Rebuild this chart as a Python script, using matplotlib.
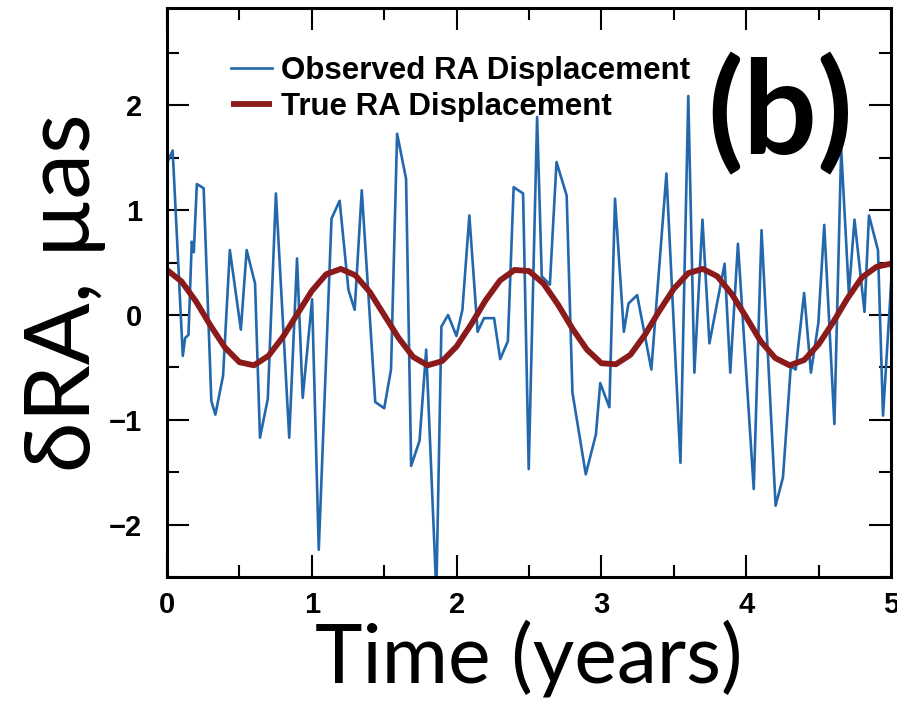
import numpy as np
import matplotlib
matplotlib.use("Agg")
import matplotlib.pyplot as plt

# observed RA displacement
t_obs = [0.000, 0.039, 0.109, 0.125, 0.148, 0.171, 0.185, 0.206, 0.253, 0.306,
         0.334, 0.387, 0.434, 0.510, 0.550, 0.608, 0.642, 0.696, 0.752, 0.844,
         0.898, 0.937, 1.002, 1.048, 1.136, 1.192, 1.253, 1.296, 1.345, 1.438,
         1.500, 1.547, 1.589, 1.651, 1.686, 1.744, 1.790, 1.860, 1.895, 1.941,
         1.999, 2.040, 2.088, 2.145, 2.189, 2.259, 2.301, 2.354, 2.394, 2.459,
         2.498, 2.556, 2.588, 2.644, 2.690, 2.760, 2.800, 2.892, 2.962, 2.992,
         3.055, 3.094, 3.155, 3.187, 3.247, 3.345, 3.449, 3.546, 3.600, 3.642,
         3.698, 3.746, 3.851, 3.890, 3.943, 4.052, 4.106, 4.203, 4.254, 4.308,
         4.342, 4.400, 4.447, 4.498, 4.539, 4.609, 4.656, 4.709, 4.748, 4.817,
         4.848, 4.910, 4.945, 5.015]
ra_obs = [1.45, 1.57, -0.39, -0.22, -0.19, 0.70, 0.60, 1.25, 1.21, -0.82,
          -0.95, -0.58, 0.62, -0.14, 0.62, 0.30, -1.17, -0.80, 1.16, -1.17,
          0.54, -0.79, 0.15, -2.24, 0.92, 1.09, 0.24, 0.05, 1.19, -0.83,
          -0.89, -0.52, 1.73, 1.30, -1.44, -1.20, -0.33, -2.65, -0.11, 0.00,
          -0.20, 0.05, 0.95, -0.16, -0.03, -0.03, -0.42, -0.25, 1.22, 1.16,
          -1.47, 1.89, 0.37, 0.29, 1.46, 1.14, -0.74, -1.52, -1.14, -0.65,
          -0.88, 1.11, -0.16, 0.11, 0.19, -0.52, 1.35, -1.41, 2.09, -0.55,
          0.91, -0.27, 0.49, -0.55, 0.68, -1.66, 0.81, -1.82, -1.55, -0.49,
          -0.52, 0.21, -0.55, -0.08, 0.86, -1.04, 1.59, 0.21, 0.91, 0.03,
          0.95, 0.62, -0.96, 0.62]

# true RA displacement, sampled every 0.1 yr
t_true = np.arange(51) * 0.1
ra_true = [0.43, 0.32, 0.13, -0.10, -0.31, -0.45, -0.48, -0.39, -0.21, 0.01,
           0.23, 0.39, 0.44, 0.38, 0.22, 0.00, -0.22, -0.40, -0.48, -0.44,
           -0.30, -0.09, 0.14, 0.33, 0.43, 0.42, 0.30, 0.10, -0.13, -0.33,
           -0.46, -0.47, -0.38, -0.19, 0.04, 0.25, 0.40, 0.44, 0.37, 0.20,
           -0.02, -0.25, -0.41, -0.48, -0.43, -0.28, -0.07, 0.16, 0.36, 0.46,
           0.49]

xticks = [0, 1, 2, 3, 4, 5]
yticks = [-2, -1, 0, 1, 2]

big_font = ['Lato', 'Open Sans', 'DejaVu Sans']

fig = plt.figure(figsize=(8.97, 7.12), dpi=100)
ax = fig.add_axes([0.1862, 0.1896, 0.8071, 0.7992])

ax.plot(t_obs, ra_obs, color='#2368ad', lw=1.9, label='Observed RA Displacement')
ax.plot(t_true, ra_true, color='#8b1a1a', lw=4.2, label='True RA Displacement',
        solid_joinstyle='round', solid_capstyle='butt')

ax.set_xlim(0, 5)
ax.set_ylim(-2.5, 2.93)
ax.set_xticks(xticks)
ax.set_yticks(yticks)
ax.set_xticks(np.arange(0.5, 5, 1.0), minor=True)
ax.set_yticks(np.arange(-2.5, 3.0, 1.0), minor=True)

ax.tick_params(which='both', direction='in', top=True, right=True, width=1.5)
ax.tick_params(which='major', length=16)
ax.tick_params(which='minor', length=8.5)
ax.tick_params(axis='x', pad=10)
ax.tick_params(axis='y', pad=18)
for lbl in ax.get_xticklabels() + ax.get_yticklabels():
    lbl.set_fontfamily('Liberation Sans')
    lbl.set_fontweight('bold')
    lbl.set_fontsize(21)

for sp in ax.spines.values():
    sp.set_linewidth(2.2)

ax.set_xlabel('Time (years)', family=big_font, fontsize=58, labelpad=0)
ax.set_ylabel('δRA, µas', family=big_font, fontsize=66, labelpad=2)

ax.text(0.847, 0.812, '(b)', transform=ax.transAxes, family=big_font,
        fontsize=94, fontweight='bold', ha='center', va='center')

ax.legend(loc='upper left', bbox_to_anchor=(0.05, 0.965), frameon=False,
          prop={'family': 'Liberation Sans', 'weight': 'bold', 'size': 22.5},
          handlelength=1.3, handletextpad=0.3, labelspacing=0.2)

fig.savefig('out.png', dpi=100)
